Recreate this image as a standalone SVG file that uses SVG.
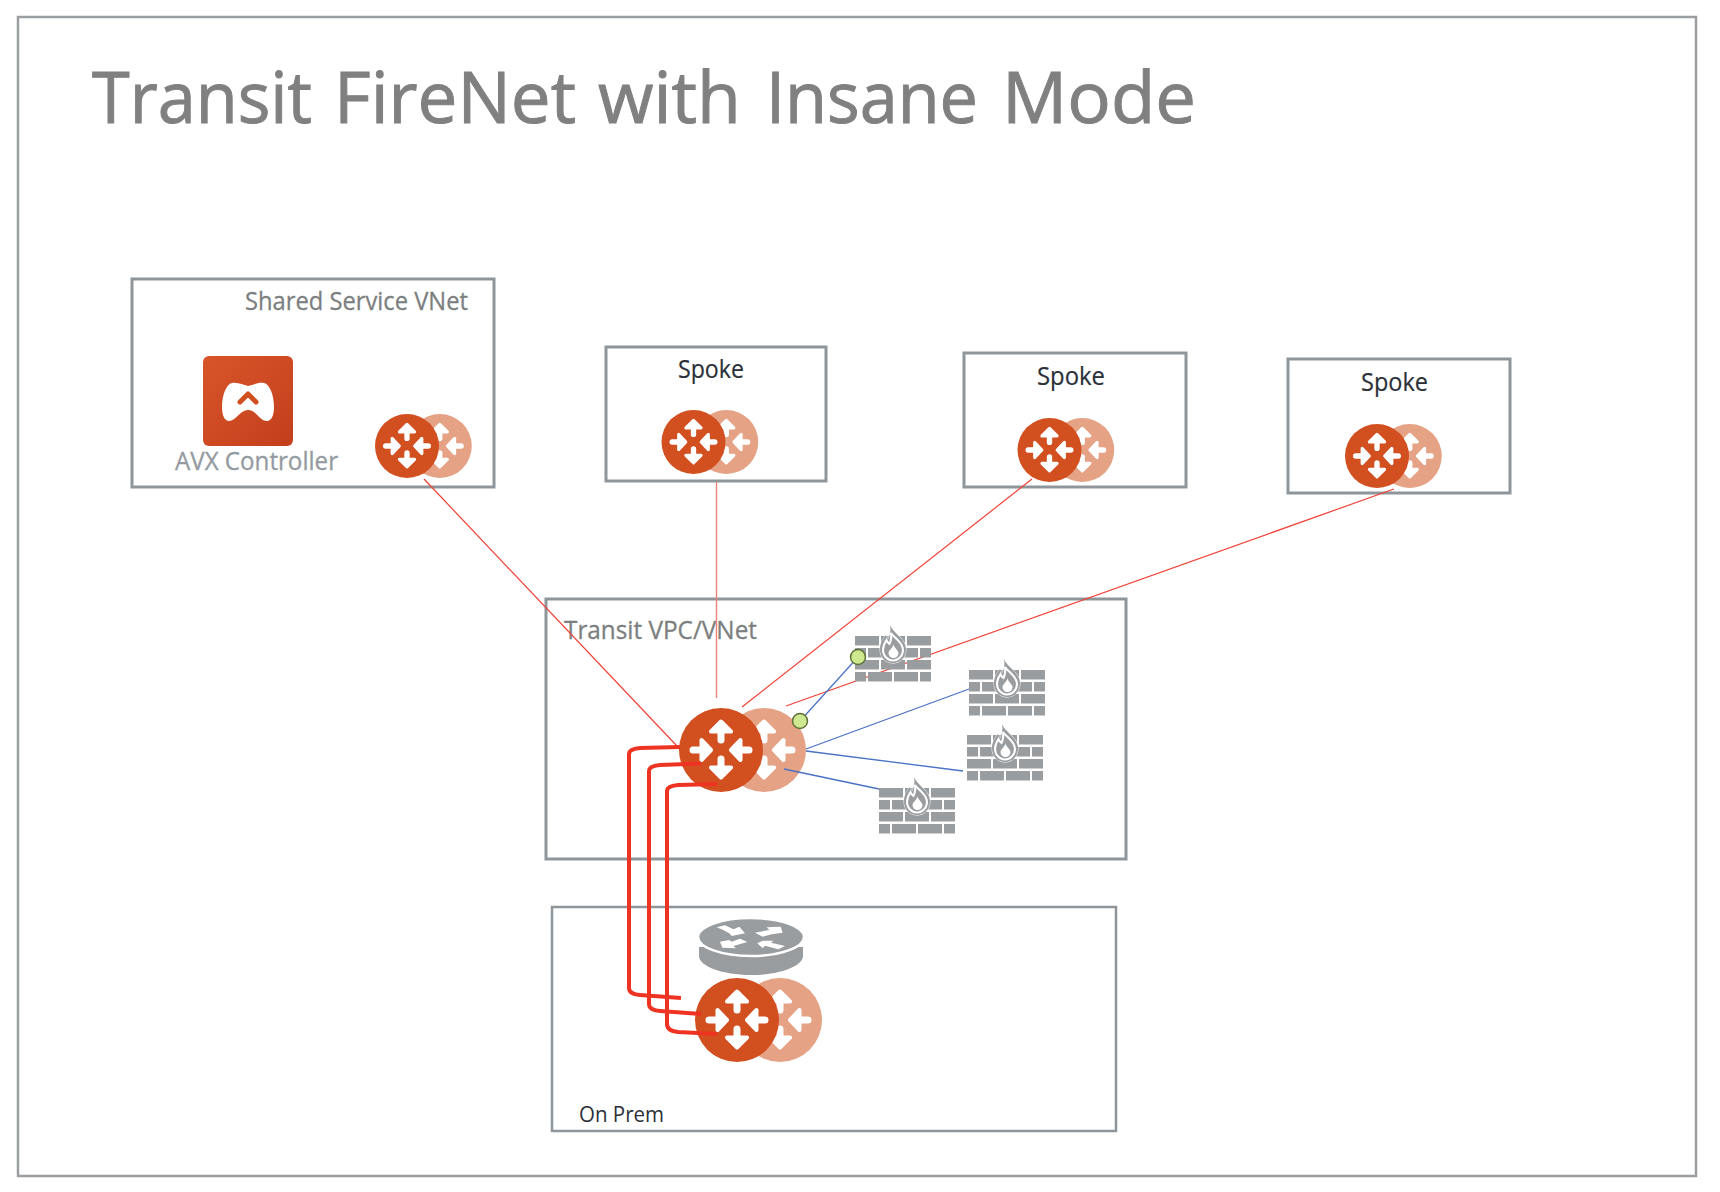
<svg xmlns="http://www.w3.org/2000/svg" xmlns:xlink="http://www.w3.org/1999/xlink" width="1720" height="1192" viewBox="0 0 1720 1192">
<style>
text{font-family:"Open Sans","Noto Sans","DejaVu Sans",sans-serif}
.box{fill:#fff;stroke:#8e969b;stroke-width:3}
.title{font-size:72px;fill:#808080;stroke:#808080;stroke-width:1}
.gray{font-size:25px;fill:#7c7f80;stroke:#7c7f80;stroke-width:.3}
.avx{font-size:25px;fill:#939aa0;stroke:#939aa0;stroke-width:.3}
.dark{font-size:26px;fill:#2b3038;stroke:#2b3038;stroke-width:.2}
.small{font-size:21px;fill:#2b3038}
.thin{fill:none;stroke:#ef4136;stroke-width:1.2}
.pale{fill:none;stroke:#f0817b;stroke-width:1.4}
.blue{fill:none;stroke:#4a72c4;stroke-width:1.3}
.thick{fill:none;stroke:#ef3323;stroke-width:4}
.brick{fill:#999da0}
.dot{fill:#cde88e;stroke:#5f7038;stroke-width:1.5}
.ar{fill:#fff;stroke:#fff;stroke-width:4;stroke-linejoin:round}
.st{fill:none;stroke:#fff;stroke-width:7;stroke-linecap:round}
</style>
<defs>
<linearGradient id="ctl" x1="0" y1="0" x2="1" y2="1"><stop offset="0" stop-color="#d8552a"/><stop offset="1" stop-color="#c33f1c"/></linearGradient>
<g id="arrows">
<path class="st" d="M0-22V-10M0 22V9M-28 0H-16M28 0H16"/>
<path class="ar" d="M0-28.500L10-18.500H-10ZM0 27.500L10 17.500H-10ZM-10 0L-19.500-10V10ZM10 0L19.500-10V10Z"/>
</g>
<g id="rtr">
<circle cx="43" r="42" fill="#e5a285"/>
<use xlink:href="#arrows" x="43"/>
<circle r="42" fill="#d24f20"/>
<use xlink:href="#arrows"/>
</g>
<g id="fw">
<path class="brick" d="M0 0h24v9.500H0zM26 0h24v9.500H26zM52 0h24v9.500H52zM0 12h11v9.500H0zM13 12h24v9.500H13zM39 12h24v9.500H39zM65 12h11v9.500H65zM0 24h24v9.500H0zM26 24h24v9.500H26zM52 24h24v9.500H52zM0 36h11v9.500H0zM13 36h24v9.500H13zM39 36h24v9.500H39zM65 36h11v9.500H65z"/>
<path d="M35-11C38-3 51 3 51 13C51 22 45 27 38 27C31 27 25 22 25 13C25 7 28 3 31-1C32 1 33 2 33.500 3C35-1 36-6 35-11Z" fill="#999da0" stroke="#fff" stroke-width="1" paint-order="stroke"/>
<path d="M36-3C39 2 48 6 48 14C48 20 43 24.500 38 24.500C33 24.500 28 20 28 14C28 10 29.500 7 31.500 4C32 6 33 7 34.500 8C36 5 36.500 1 36-3Z" fill="#999da0" stroke="#fff" stroke-width="2"/>
<path d="M38.500 8C39 12 43.500 14 43.500 17C43.500 20 41 22 38.500 22C36 22 33.500 20 33.500 17C33.500 14 38 12 38.500 8Z" fill="#fff"/>
</g>
</defs>
<rect width="1720" height="1192" fill="#fff"/>
<g id="frame"><rect x="18" y="17" width="1678" height="1159" fill="#fff" stroke="#9a9ea1" stroke-width="2.500"/></g>
<g id="title"><text class="title" y="123"><tspan x="92" textLength="220" lengthAdjust="spacingAndGlyphs">Transit</tspan> <tspan x="334" textLength="242" lengthAdjust="spacingAndGlyphs">FireNet</tspan> <tspan x="598" textLength="143" lengthAdjust="spacingAndGlyphs">with</tspan> <tspan x="766" textLength="212" lengthAdjust="spacingAndGlyphs">Insane</tspan> <tspan x="1002" textLength="194" lengthAdjust="spacingAndGlyphs">Mode</tspan></text></g>

<g id="shared-service-vnet">
<rect class="box" x="132" y="279" width="362" height="208"/>
<text class="gray" x="245" y="310" textLength="223" lengthAdjust="spacingAndGlyphs">Shared Service VNet</text>
</g>
<g id="avx-controller">
<rect x="203" y="356" width="90" height="90" rx="6" fill="url(#ctl)"/>
<path fill="#fff" d="M248 386C243 385 238 382 232 383C226 384 222 396 222 407C222 416 225 421 229 421C236 421 240 410 248 410C256 410 260 421 267 421C271 421 274 416 274 407C274 396 270 384 264 383C258 382 253 385 248 386Z"/>
<path d="M240 402L248 394L256 402" fill="none" stroke="#d24f20" stroke-width="5" stroke-linejoin="round" stroke-linecap="round"/>
<text class="avx" x="175" y="470" textLength="163" lengthAdjust="spacingAndGlyphs">AVX Controller</text>
</g>
<g id="shared-gateway"><use xlink:href="#rtr" transform="translate(407 446) scale(.762)"/></g>

<g id="spoke-1">
<rect class="box" x="606" y="347" width="220" height="134"/>
<text class="dark" x="678" y="378" textLength="66" lengthAdjust="spacingAndGlyphs">Spoke</text>
<use xlink:href="#rtr" transform="translate(693.500 442) scale(.762)"/>
</g>
<g id="spoke-2">
<rect class="box" x="964" y="353" width="222" height="134"/>
<text class="dark" x="1037" y="385" textLength="68" lengthAdjust="spacingAndGlyphs">Spoke</text>
<use xlink:href="#rtr" transform="translate(1049.500 450) scale(.762)"/>
</g>
<g id="spoke-3">
<rect class="box" x="1288" y="359" width="222" height="134"/>
<text class="dark" x="1361" y="391" textLength="67" lengthAdjust="spacingAndGlyphs">Spoke</text>
<use xlink:href="#rtr" transform="translate(1377 456) scale(.762)"/>
</g>

<g id="transit-vnet">
<rect class="box" x="546" y="599" width="580" height="260"/>
<text class="gray" x="564" y="639" textLength="193" lengthAdjust="spacingAndGlyphs">Transit VPC/VNet</text>
</g>
<g id="transit-gateway"><use xlink:href="#rtr" transform="translate(721 750)"/></g>

<g id="on-prem">
<rect class="box" x="552" y="907" width="564" height="224" style="stroke-width:2.500"/>
<text class="small" x="579" y="1122" textLength="85" lengthAdjust="spacingAndGlyphs">On Prem</text>
</g>
<g id="on-prem-router">
<path fill="#999da0" d="M699 947V956C699 966 722 975 751 975C780 975 803 966 803 956V947Z"/>
<ellipse cx="751" cy="937" rx="53" ry="19" fill="#999da0" stroke="#fff" stroke-width="2.500"/>
<path fill="#fff" transform="translate(690 910) scale(.3333)" d="M80 52L105 46L130 58L148 50L165 70L125 78L118 70L100 60ZM195 68L238 60L230 52L272 50L278 68L245 73L218 80ZM172 96L150 86L125 95L118 90L90 95L97 113L138 115L130 108ZM202 100L218 92L250 92L243 98L285 108L265 118L225 107L218 115Z"/>
</g>
<g id="on-prem-gateway"><use xlink:href="#rtr" transform="translate(737 1020)"/></g>

<g id="connectors">
<path class="thin" d="M424 479L677 746"/>
<path class="pale" d="M716.500 482V698"/>
<path class="thin" d="M1032 479L742 707"/>
<path class="thin" d="M1394 489L786 706"/>
<path class="blue" d="M800 721L858 657"/>
<path class="blue" d="M806 749L969 689"/>
<path class="blue" d="M806 751L963 771"/>
<path class="blue" d="M784 769L879 789"/>
<path class="thick" d="M680 747L640 748Q629 749 629 754V988Q629 994 640 995L681 998"/>
<path class="thick" d="M701 763.500L660 765Q649 766 649 771V1004Q649 1010 660 1011L701 1014"/>
<path class="thick" d="M717 784L678 785Q667 786 667 791V1024Q667 1031 678 1032L717 1034"/>
</g>

<g id="firewall-1"><use xlink:href="#fw" x="855" y="636"/></g>
<g id="firewall-2"><use xlink:href="#fw" x="969" y="670"/></g>
<g id="firewall-3"><use xlink:href="#fw" x="967" y="735"/></g>
<g id="firewall-4"><use xlink:href="#fw" x="879" y="788"/></g>
<g id="junction-1"><circle class="dot" cx="858" cy="657" r="7.500"/></g>
<g id="junction-2"><circle class="dot" cx="800" cy="721" r="7.500"/></g>
</svg>
